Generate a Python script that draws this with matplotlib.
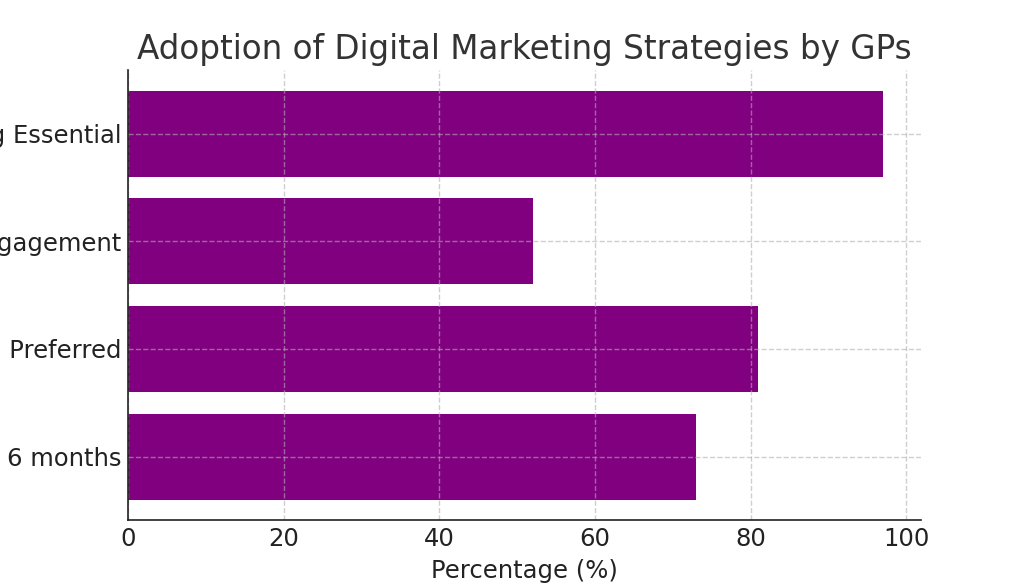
import matplotlib
matplotlib.use("Agg")
import matplotlib.pyplot as plt

# Strategy labels (bottom to top) and adoption percentages
strategies = [
    "Adopted Digital Marketing in last 6 months",
    "Social Media Preferred",
    "Improved Patient Engagement",
    "Digital Marketing Essential",
]
percentages = [73, 81, 52, 97]

fig = plt.figure(figsize=(10.24, 5.85), dpi=100)
ax = fig.add_axes([0.125, 0.111, 0.774, 0.769])

ax.barh(strategies, percentages, color="#800080")
ax.grid(True, linestyle="--", color="#b0b0b0", alpha=0.6, linewidth=1.0)

ax.set_title("Adoption of Digital Marketing Strategies by GPs",
             fontsize=23.5, color="#333333", pad=8)
ax.set_xlabel("Percentage (%)", fontsize=17.5, color="#222222", labelpad=6)
ax.tick_params(labelsize=17.5, colors="#222222", length=0, pad=5)

for side in ("top", "right"):
    ax.spines[side].set_visible(False)
for side in ("left", "bottom"):
    ax.spines[side].set_color("#222222")
    ax.spines[side].set_linewidth(1.2)

fig.savefig("out.png", dpi=100)
